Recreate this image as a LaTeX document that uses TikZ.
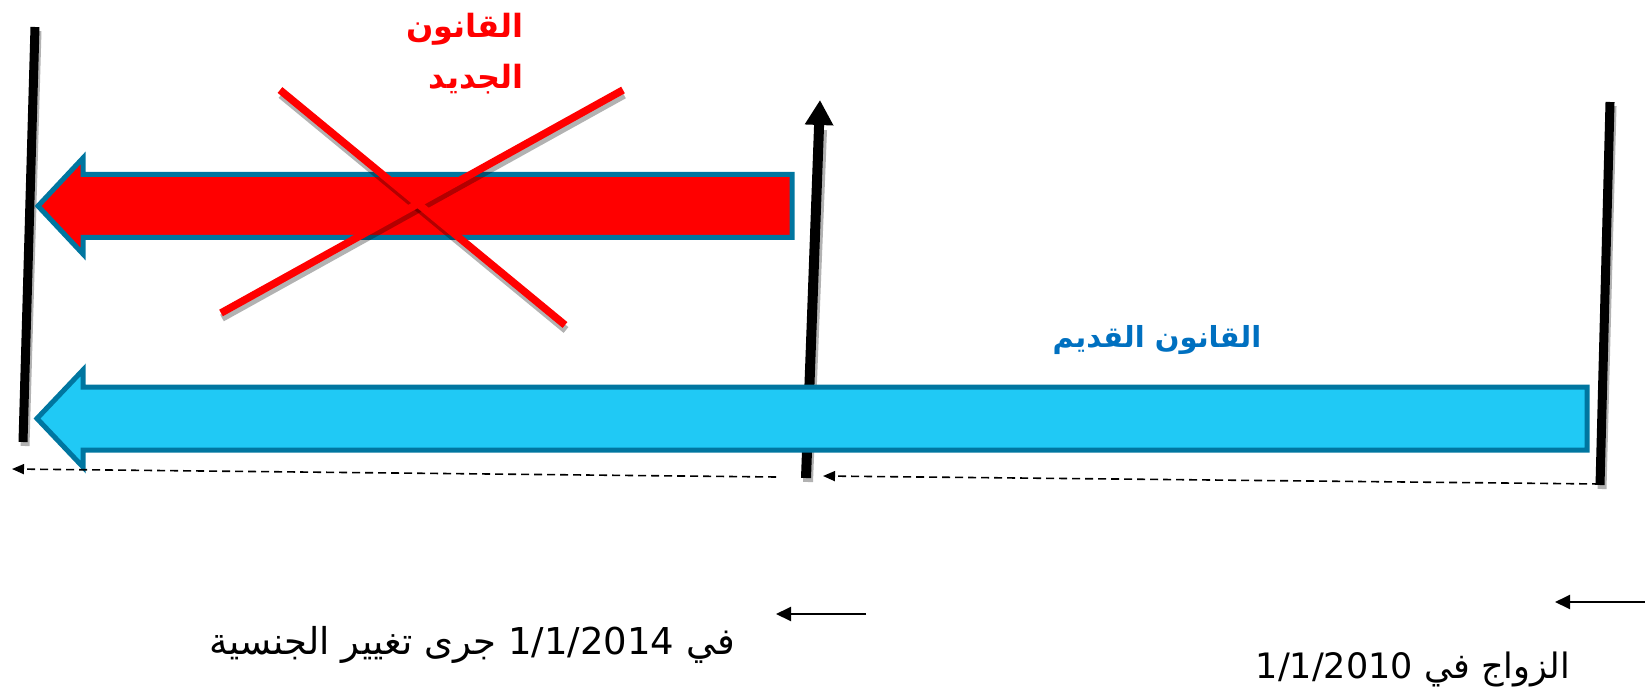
\documentclass[tikz,border=0pt]{standalone}
\usepackage{fontspec}
\newfontfamily\arabicfont[Script=Arabic]{DejaVu Sans}
\TeXXeTstate=1
\usetikzlibrary{arrows.meta}
\definecolor{rim}{RGB}{0,118,160}
\definecolor{sky}{RGB}{32,201,245}
\definecolor{lawblue}{RGB}{0,112,192}

\begin{document}
\begin{tikzpicture}[x=1pt,y=-1pt,
  bar/.style={draw=rim,line width=5pt,line join=miter},
  post/.style={line width=9pt},
  ghost/.style={black,opacity=0.3},
  cross/.style={red,line width=7.5pt},
  dashlink/.style={line width=1.6pt,dash pattern=on 8pt off 5pt,-{Triangle[length=12pt,width=10pt]}},
  pointer/.style={line width=2pt,-{Triangle[length=15pt,width=14pt]}},
  lbl/.style={inner sep=0pt,font=\arabicfont}]
\useasboundingbox (0,0) rectangle (1645,692);
% time posts
\coordinate (ltop) at (35,27);  \coordinate (lbot) at (23,442);
\coordinate (mbot) at (806,478); \coordinate (mtop) at (820,100);
\coordinate (rtop) at (1610,102); \coordinate (rbot) at (1600,485);
\draw[ghost,line width=9pt] ([shift={(2,4)}]ltop)--([shift={(2,4)}]lbot);
\draw[ghost,line width=9pt] ([shift={(2,4)}]rtop)--([shift={(2,4)}]rbot);
\draw[ghost,line width=10pt] ([shift={(2,4)}]mbot)--([shift={(2,30)}]mtop);
\draw[post] (ltop)--(lbot);
\draw[post] (rtop)--(rbot);
\draw[line width=10pt,-{Triangle[length=25pt,width=27pt]}] (mbot)--(mtop);
% new law (crossed)
\draw[bar,fill=red] (792,174.5)--(83,174.5)--(83,158)--(38,206)--(83,254)--(83,237.5)--(792,237.5)--cycle;
\coordinate (xa) at (280,90);  \coordinate (xb) at (565,325);
\coordinate (xc) at (623,90);  \coordinate (xd) at (221,313);
\draw[ghost,line width=7.5pt] ([shift={(1,5)}]xa)--([shift={(1,5)}]xb);
\draw[ghost,line width=7.5pt] ([shift={(1,5)}]xc)--([shift={(1,5)}]xd);
\draw[cross] (xa)--(xb);
\draw[cross] (xc)--(xd);
% old law
\draw[bar,fill=sky] (1587,387)--(83,387)--(83,370)--(37,418.5)--(83,467)--(83,450)--(1587,450)--cycle;
% dashed spans
\coordinate (d1a) at (776,477); \coordinate (d1b) at (12,469);
\coordinate (d2a) at (1600,484); \coordinate (d2b) at (823,476);
\draw[dashlink] (d1a)--(d1b);
\draw[dashlink] (d2a)--(d2b);
% labels
\node[lbl,red,align=right,anchor=north east,font=\arabicfont\bfseries\fontsize{32}{51}\selectfont] (newlaw) at (524,13)
  {\beginR القانون\endR\\\beginR الجديد\endR};
\node[lbl,lawblue,font=\arabicfont\bfseries\fontsize{29}{34}\selectfont] (oldlaw) at (1157,340) {\beginR القانون القديم\endR};
\node[lbl,font=\arabicfont\fontsize{37}{42}\selectfont] (change) at (472,645) {\beginR في \beginL 1/1/2014\endL{} جرى تغيير الجنسية\endR};
\node[lbl,font=\arabicfont\fontsize{35}{40}\selectfont] (wed) at (1413,669) {\beginR الزواج في \beginL 1/1/2010\endL\endR};
\coordinate (p1a) at (866,614); \coordinate (p1b) at (776,614);
\coordinate (p2a) at (1645,602); \coordinate (p2b) at (1555,602);
\draw[pointer] (p1a)--(p1b);
\draw[pointer] (p2a)--(p2b);
\end{tikzpicture}
\end{document}
